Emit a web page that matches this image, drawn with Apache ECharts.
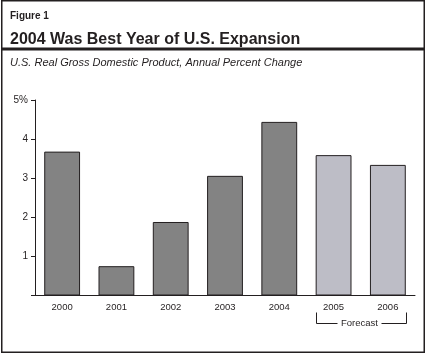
<!DOCTYPE html>
<html>
<head>
<meta charset="utf-8">
<script src="https://cdn.jsdelivr.net/npm/echarts@6/dist/echarts.min.js"></script>
<style>
html,body{margin:0;padding:0;background:#fff;}
#chart{width:428px;height:356px;}
</style>
</head>
<body>
<div id="chart"></div>
<script>
var categories = ['2000', '2001', '2002', '2003', '2004', '2005', '2006'];
var growth = [3.68, 0.75, 1.88, 3.06, 4.44, 3.59, 3.34];
var isForecast = [false, false, false, false, false, true, true];
var yTicks = [0, 1, 2, 3, 4, 5];
var yTickLabels = ['', '1', '2', '3', '4', '5%'];
var figureLabel = 'Figure 1';
var titleText = '2004 Was Best Year of U.S. Expansion';
var subtitleText = 'U.S. Real Gross Domestic Product, Annual Percent Change';
var forecastText = 'Forecast';

var INK = '#231f20';
var ACTUAL_COLOR = '#838383';
var FORECAST_COLOR = '#bdbdc6';

var chart = echarts.init(document.getElementById('chart'), null, {renderer: 'canvas'});

var barData = growth.map(function (v, i) {
  return {
    value: v,
    itemStyle: {color: isForecast[i] ? FORECAST_COLOR : ACTUAL_COLOR}
  };
});

var option = {
  animation: false,
  backgroundColor: '#fff',
  title: [
    {text: figureLabel, left: 5, top: 6,
      textStyle: {fontFamily: 'Liberation Sans, Arial, sans-serif', fontWeight: 'bold', fontSize: 10, color: INK}},
    {text: titleText, left: 5, top: 27,
      textStyle: {fontFamily: 'Liberation Sans, Arial, sans-serif', fontWeight: 'bold', fontSize: 16, color: INK}},
    {text: subtitleText, left: 5, top: 52,
      textStyle: {fontFamily: 'Liberation Sans, Arial, sans-serif', fontStyle: 'italic', fontWeight: 'normal', fontSize: 11, color: INK}}
  ],
  grid: {left: 35, right: 13, top: 100, bottom: 60.5, containLabel: false},
  xAxis: {
    type: 'category',
    data: categories,
    boundaryGap: true,
    axisLine: {show: true, lineStyle: {color: INK, width: 1}},
    axisTick: {show: false},
    axisLabel: {margin: 7, color: INK, fontSize: 9.5,
      fontFamily: 'Liberation Sans, Arial, sans-serif'},
    splitLine: {show: false}
  },
  yAxis: {
    type: 'value',
    min: yTicks[0],
    max: yTicks[yTicks.length - 1],
    interval: 1,
    axisLine: {show: true, lineStyle: {color: INK, width: 1}},
    axisTick: {show: true, length: 4, lineStyle: {color: INK, width: 1}},
    axisLabel: {
      margin: 7, color: INK, fontSize: 10,
      fontFamily: 'Liberation Sans, Arial, sans-serif',
      formatter: function (v) {
        var idx = yTicks.indexOf(v);
        return idx >= 0 ? yTickLabels[idx] : '';
      }
    },
    splitLine: {show: false}
  },
  series: [{
    type: 'bar',
    data: barData,
    barWidth: '66%',
    itemStyle: {borderColor: INK, borderWidth: 1}
  }]
};

chart.setOption(option);

// Frame, rule and forecast bracket (positioned from axes)
var i05 = categories.indexOf('2005');
var i06 = categories.indexOf('2006');
var c05 = chart.convertToPixel({xAxisIndex: 0}, categories[i05]);
var c06 = chart.convertToPixel({xAxisIndex: 0}, categories[i06]);
var axisY = chart.convertToPixel({yAxisIndex: 0}, 0);
var half = (c06 - c05) * 0.66 / 2;
var bx0 = Math.round(c05 - half) + 0.5;
var bx1 = Math.round(c06 + half) + 0.5;
var bTop = Math.round(axisY + 16) + 0.5;
var bBot = Math.round(axisY + 27) + 0.5;
var midX = (bx0 + bx1) / 2;

chart.setOption({
  graphic: [
    {type: 'rect', shape: {x: 1.75, y: 0.75, width: 422.5, height: 351.5},
      style: {fill: 'none', stroke: INK, lineWidth: 1.5}, z: 100},
    {type: 'line', shape: {x1: 2, y1: 49, x2: 424, y2: 49},
      style: {stroke: INK, lineWidth: 3}, z: 100},
    {type: 'polyline', shape: {points: [[bx0, bTop], [bx0, bBot], [midX - 24, bBot]]},
      style: {fill: 'none', stroke: INK, lineWidth: 1}, z: 100},
    {type: 'polyline', shape: {points: [[midX + 20, bBot], [bx1, bBot], [bx1, bTop]]},
      style: {fill: 'none', stroke: INK, lineWidth: 1}, z: 100},
    {type: 'text', x: midX - 2, y: bBot, z: 100,
      style: {text: forecastText, fill: INK, fontSize: 9.5,
        fontFamily: 'Liberation Sans, Arial, sans-serif',
        align: 'center', verticalAlign: 'middle'}}
  ]
});
</script>
</body>
</html>
